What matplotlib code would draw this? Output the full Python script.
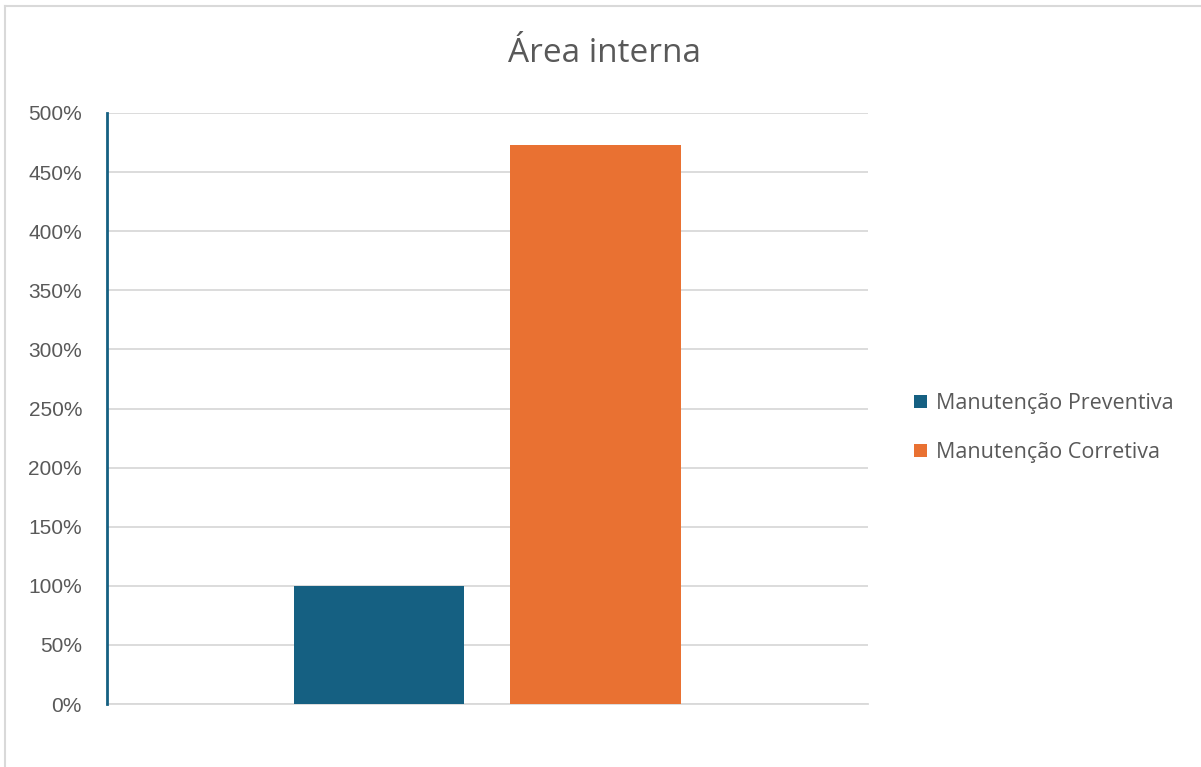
import matplotlib.pyplot as plt
from matplotlib.lines import Line2D
from matplotlib.patches import Patch

series = ["Manutenção Preventiva", "Manutenção Corretiva"]
values = [100, 473]
colors = ["#156082", "#E97132"]
yticks = [0, 50, 100, 150, 200, 250, 300, 350, 400, 450, 500]

W, H = 1201, 767
fig = plt.figure(figsize=(W / 100, H / 100), dpi=100)

# plot area in pixels: x 107..868, y 113..704
ax = fig.add_axes([107 / W, 1 - 704 / H, (868 - 107) / W, (704 - 113) / H])

offsets = [-108.5 / 171, 108.5 / 171]
for s, v, c, o in zip(series, values, colors, offsets):
    ax.bar(o, v, width=1.0, color=c, label=s, zorder=3)

ax.set_xlim(-380.5 / 171, 380.5 / 171)
ax.set_ylim(0, 500)
ax.set_yticks(yticks)
ax.set_yticklabels([f"{t}%" for t in yticks], fontsize=15, color="#595959",
                   family="Liberation Sans")
ax.set_xticks([])
ax.tick_params(axis="y", length=0, pad=18)
ax.grid(axis="y", color="#d9d9d9", linewidth=1.3, zorder=0)
for sp in ["top", "right"]:
    ax.spines[sp].set_visible(False)
ax.spines["bottom"].set_color("#d9d9d9")
ax.spines["bottom"].set_linewidth(1.3)
ax.spines["left"].set_color("#156082")
ax.spines["left"].set_linewidth(2)
ax.spines["left"].set_zorder(4)

fig.text(604 / W, 1 - 53 / H, "Área interna", ha="center", va="center",
         fontsize=24, color="#595959", family="Open Sans")

handles = [Patch(facecolor=c, edgecolor="none") for c in colors]
leg = fig.legend(handles, series, loc="center left",
                 bbox_to_anchor=(895 / W, 1 - 428 / H), frameon=False,
                 prop={"family": "Open Sans", "size": 15.5}, labelcolor="#595959",
                 handlelength=0.6, handleheight=0.6, handletextpad=0.42,
                 labelspacing=1.3)

# chart border
fig.add_artist(Line2D([5 / W, 5 / W], [0, 1 - 6 / H], color="#d9d9d9",
                      linewidth=1.5, transform=fig.transFigure))
fig.add_artist(Line2D([5 / W, 1], [1 - 6 / H, 1 - 6 / H], color="#d9d9d9",
                      linewidth=1.5, transform=fig.transFigure))

fig.savefig("out.png", dpi=100)
